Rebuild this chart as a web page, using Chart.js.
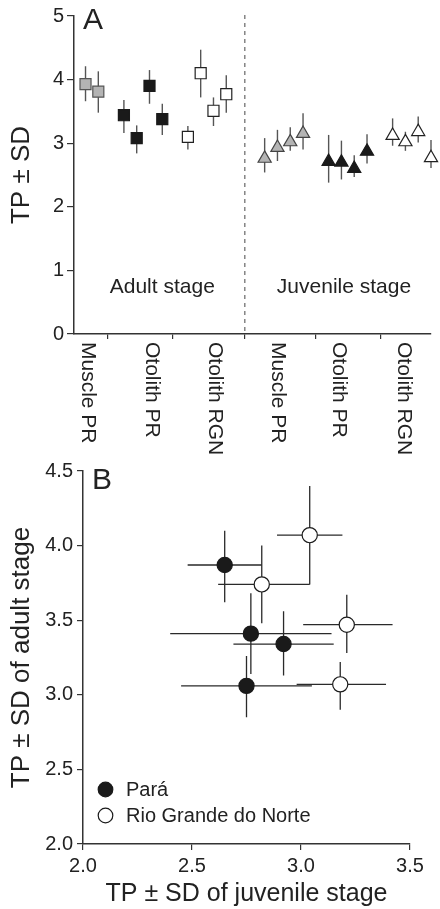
<!DOCTYPE html>
<html>
<head>
<meta charset="utf-8">
<script src="https://cdn.jsdelivr.net/npm/chart.js@4.4.1/dist/chart.umd.min.js"></script>
<style>
  body { margin: 0; background: #fff; }
  #chartA { position: absolute; left: 0; top: 0; }
  #chartB { position: absolute; left: 0; top: 455px; }
</style>
</head>
<body>
<canvas id="chartA" width="440" height="455"></canvas>
<canvas id="chartB" width="440" height="454"></canvas>
<script>
// ---- Panel A: TP +- SD per tissue/method, adult vs juvenile ----
const groupLabels = ['Muscle PR', 'Otolith PR', 'Otolith RGN', 'Muscle PR', 'Otolith PR', 'Otolith RGN'];
const groupLabelSlots = [1.2, 6.2, 11.1, 16, 20.8, 25.9];
const groupTickSlots = [2.75, 7.8, 13.45, 19, 24.1];
const stageDivider = 13.45;
const stageLabels = ['Adult stage', 'Juvenile stage'];
const stageLabelSlots = [7.0, 21.2];
const stageLabelY = 0.73;

// adult stage (squares)
const adultMuscleSlots = [1, 2];
const adultMuscleTP = [3.93, 3.81];
const adultMuscleLo = [3.66, 3.48];
const adultMuscleHi = [4.21, 4.13];

const adultOtoPRSlots = [4, 5, 6, 7];
const adultOtoPRTP = [3.44, 3.08, 3.90, 3.38];
const adultOtoPRLo = [3.16, 2.84, 3.62, 3.13];
const adultOtoPRHi = [3.68, 3.28, 4.15, 3.62];

const adultOtoRGNSlots = [9, 10, 11, 12];
const adultOtoRGNTP = [3.10, 4.10, 3.51, 3.77];
const adultOtoRGNLo = [2.90, 3.72, 3.27, 3.48];
const adultOtoRGNHi = [3.27, 4.47, 3.72, 4.07];

// juvenile stage (triangles)
const juvMuscleSlots = [15, 16, 17, 18];
const juvMuscleTP = [2.76, 2.93, 3.02, 3.15];
const juvMuscleLo = [2.54, 2.72, 2.88, 2.90];
const juvMuscleHi = [3.08, 3.21, 3.25, 3.47];

const juvOtoPRSlots = [20, 21, 22, 23];
const juvOtoPRTP = [2.71, 2.70, 2.60, 2.87];
const juvOtoPRLo = [2.38, 2.43, 2.47, 2.68];
const juvOtoPRHi = [3.13, 3.04, 2.81, 3.14];

const juvOtoRGNSlots = [25, 26, 27, 28];
const juvOtoRGNTP = [3.12, 3.02, 3.18, 2.77];
const juvOtoRGNLo = [2.96, 2.88, 3.01, 2.61];
const juvOtoRGNHi = [3.39, 3.18, 3.42, 3.05];

// ---- Panel B: juvenile vs adult TP per site ----
const seriesB = ['Pará', 'Rio Grande do Norte'];
const paraJuv = [2.65, 2.77, 2.92, 2.75];
const paraJuvLo = [2.48, 2.40, 2.69, 2.45];
const paraJuvHi = [2.82, 3.14, 3.15, 3.05];
const paraAdult = [3.87, 3.41, 3.34, 3.06];
const paraAdultLo = [3.62, 3.14, 3.13, 2.85];
const paraAdultHi = [4.10, 3.68, 3.56, 3.26];

const rgnJuv = [3.04, 2.82, 3.21, 3.18];
const rgnJuvLo = [2.89, 2.62, 3.01, 2.98];
const rgnJuvHi = [3.19, 3.04, 3.42, 3.39];
const rgnAdult = [4.07, 3.74, 3.47, 3.07];
const rgnAdultLo = [3.74, 3.48, 3.28, 2.90];
const rgnAdultHi = [4.40, 4.00, 3.67, 3.22];

Chart.defaults.font.family = '"Liberation Sans", Arial, sans-serif';
Chart.defaults.color = '#222';

const GRAY = '#b4b4b4';
const BLACK = '#1a1a1a';
const WHITE = '#ffffff';

function seriesA(slots, tp, lo, hi, style, fill, border) {
  return {
    data: slots.map((s, i) => ({ x: s, y: tp[i] })),
    yLow: lo, yHigh: hi,
    pointStyle: style,
    pointRadius: style === 'rect' ? 7.8 : 7.6,
    backgroundColor: fill,
    borderColor: border,
    borderWidth: 1.2,
    clip: false
  };
}

function seriesBData(xs, ys, xlo, xhi, ylo, yhi, fill) {
  return {
    data: xs.map((v, i) => ({ x: v, y: ys[i] })),
    xLow: xlo, xHigh: xhi, yLow: ylo, yHigh: yhi,
    pointStyle: 'circle',
    pointRadius: 7.6,
    backgroundColor: fill,
    borderColor: '#1a1a1a',
    borderWidth: 1.2,
    clip: false
  };
}

// error bars drawn behind the markers
const errorBars = {
  id: 'errorBars',
  beforeDatasetsDraw(chart, args, opts) {
    const { ctx, scales: { x, y } } = chart;
    ctx.save();
    ctx.strokeStyle = opts.color;
    ctx.lineWidth = opts.width;
    chart.data.datasets.forEach(ds => {
      ds.data.forEach((p, i) => {
        const px = x.getPixelForValue(p.x);
        const py = y.getPixelForValue(p.y);
        ctx.beginPath();
        if (ds.yLow) {
          ctx.moveTo(px, y.getPixelForValue(ds.yLow[i]));
          ctx.lineTo(px, y.getPixelForValue(ds.yHigh[i]));
        }
        if (ds.xLow) {
          ctx.moveTo(x.getPixelForValue(ds.xLow[i]), py);
          ctx.lineTo(x.getPixelForValue(ds.xHigh[i]), py);
        }
        ctx.stroke();
      });
    });
    ctx.restore();
  }
};

const panelAExtras = {
  id: 'panelAExtras',
  afterDraw(chart) {
    const { ctx, chartArea, scales: { x, y } } = chart;
    ctx.save();
    // stage divider
    const dx = x.getPixelForValue(stageDivider);
    ctx.strokeStyle = '#666';
    ctx.lineWidth = 1.2;
    ctx.setLineDash([4, 4]);
    ctx.beginPath();
    ctx.moveTo(dx, chartArea.top - 1);
    ctx.lineTo(dx, chartArea.bottom);
    ctx.stroke();
    ctx.setLineDash([]);

    ctx.fillStyle = '#222';
    ctx.font = '21px "Liberation Sans", Arial, sans-serif';
    ctx.textAlign = 'center';
    ctx.textBaseline = 'middle';
    stageLabels.forEach((t, i) => {
      ctx.fillText(t, x.getPixelForValue(stageLabelSlots[i]), y.getPixelForValue(stageLabelY));
    });

    // rotated category labels, reading downwards
    ctx.textAlign = 'left';
    groupLabels.forEach((t, i) => {
      ctx.save();
      ctx.translate(x.getPixelForValue(groupLabelSlots[i]), chartArea.bottom + 8);
      ctx.rotate(Math.PI / 2);
      ctx.fillText(t, 0, 0);
      ctx.restore();
    });

    ctx.font = '30px "Liberation Sans", Arial, sans-serif';
    ctx.textBaseline = 'alphabetic';
    ctx.fillText('A', chartArea.left + 9, 29);
    ctx.restore();
  }
};

const panelBExtras = {
  id: 'panelBExtras',
  afterDraw(chart) {
    const { ctx, chartArea } = chart;
    ctx.save();
    ctx.font = '30px "Liberation Sans", Arial, sans-serif';
    ctx.fillStyle = '#222';
    ctx.fillText('B', chartArea.left + 9, 34);

    const fills = [BLACK, WHITE];
    const rows = [chartArea.bottom - 54.5, chartArea.bottom - 28.5];
    ctx.font = '20px "Liberation Sans", Arial, sans-serif';
    ctx.textBaseline = 'middle';
    seriesB.forEach((name, i) => {
      ctx.beginPath();
      ctx.arc(chartArea.left + 22.5, rows[i], 7.3, 0, Math.PI * 2);
      ctx.fillStyle = fills[i];
      ctx.fill();
      ctx.strokeStyle = '#1a1a1a';
      ctx.lineWidth = 1.2;
      ctx.stroke();
      ctx.fillStyle = '#222';
      ctx.fillText(name, chartArea.left + 43, rows[i] + 1);
    });
    ctx.restore();
  }
};

new Chart(document.getElementById('chartA'), {
  type: 'scatter',
  data: {
    datasets: [
      seriesA(adultMuscleSlots, adultMuscleTP, adultMuscleLo, adultMuscleHi, 'rect', GRAY, '#555'),
      seriesA(adultOtoPRSlots, adultOtoPRTP, adultOtoPRLo, adultOtoPRHi, 'rect', BLACK, BLACK),
      seriesA(adultOtoRGNSlots, adultOtoRGNTP, adultOtoRGNLo, adultOtoRGNHi, 'rect', WHITE, '#222'),
      seriesA(juvMuscleSlots, juvMuscleTP, juvMuscleLo, juvMuscleHi, 'triangle', GRAY, '#444'),
      seriesA(juvOtoPRSlots, juvOtoPRTP, juvOtoPRLo, juvOtoPRHi, 'triangle', BLACK, BLACK),
      seriesA(juvOtoRGNSlots, juvOtoRGNTP, juvOtoRGNLo, juvOtoRGNHi, 'triangle', WHITE, '#222')
    ]
  },
  options: {
    responsive: false,
    animation: false,
    layout: { padding: { top: 16, right: 8, left: 0, bottom: 0 } },
    plugins: {
      legend: { display: false },
      tooltip: { enabled: false },
      errorBars: { color: '#555', width: 1.4 }
    },
    scales: {
      x: {
        type: 'linear',
        min: 0.1,
        max: 28,
        afterBuildTicks: axis => { axis.ticks = groupTickSlots.map(v => ({ value: v })); },
        afterFit: s => { s.height = 121; },
        ticks: { callback: () => '' },
        grid: { drawOnChartArea: false, drawTicks: true, tickLength: 5, color: '#333', lineWidth: 1.2 },
        border: { color: '#333', width: 1.5 }
      },
      y: {
        min: 0,
        max: 5,
        afterFit: s => { s.width = 74; },
        ticks: { stepSize: 1, font: { size: 20 }, padding: 3, color: '#222' },
        grid: { drawOnChartArea: false, drawTicks: true, tickLength: 7, color: '#333', lineWidth: 1.2 },
        border: { color: '#333', width: 1.5 },
        title: { display: true, text: 'TP ± SD', font: { size: 26 }, padding: { top: 6, bottom: 0 }, color: '#222' }
      }
    }
  },
  plugins: [errorBars, panelAExtras]
});

new Chart(document.getElementById('chartB'), {
  type: 'scatter',
  data: {
    datasets: [
      seriesBData(paraJuv, paraAdult, paraJuvLo, paraJuvHi, paraAdultLo, paraAdultHi, BLACK),
      seriesBData(rgnJuv, rgnAdult, rgnJuvLo, rgnJuvHi, rgnAdultLo, rgnAdultHi, WHITE)
    ]
  },
  options: {
    responsive: false,
    animation: false,
    layout: { padding: { top: 13, right: 30, left: 0, bottom: 0 } },
    plugins: {
      legend: { display: false },
      tooltip: { enabled: false },
      errorBars: { color: '#2a2a2a', width: 1.3 }
    },
    scales: {
      x: {
        type: 'linear',
        min: 2,
        max: 3.5,
        afterFit: s => { s.height = 65; },
        ticks: { stepSize: 0.5, font: { size: 20 }, padding: 4, color: '#222', callback: v => v.toFixed(1), maxRotation: 0 },
        grid: { drawOnChartArea: false, drawTicks: true, tickLength: 6, color: '#333', lineWidth: 1.2 },
        border: { color: '#333', width: 1.5 },
        title: { display: true, text: 'TP ± SD of juvenile stage', font: { size: 25 }, padding: { top: 0, bottom: 0 }, color: '#222' }
      },
      y: {
        min: 2,
        max: 4.5,
        afterFit: s => { s.width = 83; },
        ticks: { stepSize: 0.5, font: { size: 20 }, padding: 4, color: '#222', callback: v => v.toFixed(1) },
        grid: { drawOnChartArea: false, drawTicks: true, tickLength: 6, color: '#333', lineWidth: 1.2 },
        border: { color: '#333', width: 1.5 },
        title: { display: true, text: 'TP ± SD of adult stage', font: { size: 26 }, padding: { top: 6, bottom: 0 }, color: '#222' }
      }
    }
  },
  plugins: [errorBars, panelBExtras]
});
</script>
</body>
</html>
